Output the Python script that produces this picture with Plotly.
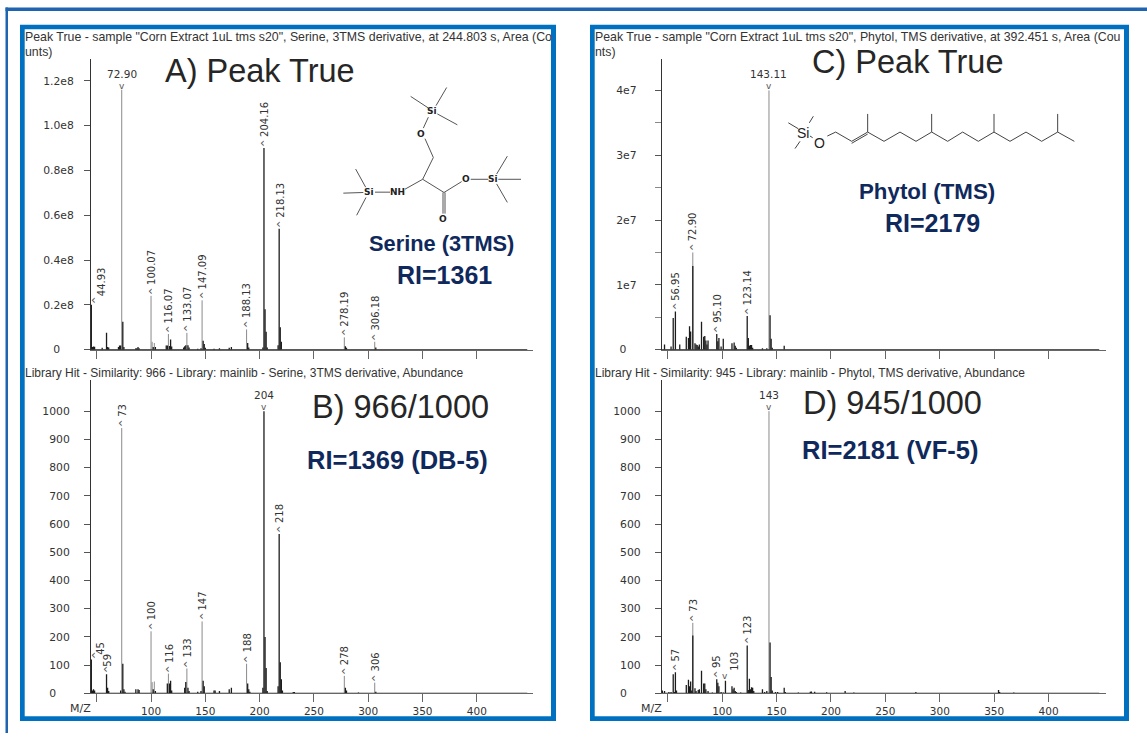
import plotly.graph_objects as go

# ---------- data ----------
A_grey_mz = [73, 100, 101, 103, 116, 133, 147, 188, 278, 306]
A_grey_h = [1.16e8, 0.24e8, 0.035e8, 0.03e8, 0.07e8, 0.075e8, 0.22e8, 0.09e8, 0.055e8, 0.035e8]
A_dark_mz = [45, 46, 47, 48, 55, 59, 60, 61, 70, 71, 72, 74, 75, 86, 87, 88, 89, 102, 104, 114, 115, 117, 118, 119,
             130, 131, 132, 134, 135, 143, 146, 148, 149, 150, 158, 163, 172, 174, 189, 190, 203, 204, 205, 206, 207,
             217, 218, 219, 220, 279, 280, 307]
A_dark_h = [0.2e8, 0.012e8, 0.014e8, 0.013e8, 0.008e8, 0.075e8, 0.012e8, 0.01e8, 0.012e8, 0.018e8, 0.018e8, 0.125e8,
            0.012e8, 0.006e8, 0.006e8, 0.012e8, 0.006e8, 0.012e8, 0.012e8, 0.018e8, 0.018e8, 0.016e8, 0.045e8, 0.014e8,
            0.01e8, 0.015e8, 0.02e8, 0.02e8, 0.01e8, 0.004e8, 0.006e8, 0.04e8, 0.025e8, 0.008e8, 0.004e8, 0.006e8,
            0.008e8, 0.012e8, 0.03e8, 0.01e8, 0.01e8, 0.9e8, 0.18e8, 0.08e8, 0.01e8, 0.02e8, 0.54e8, 0.1e8, 0.035e8,
            0.015e8, 0.008e8, 0.01e8]
A_labels = ["44.93", "72.90", "100.07", "116.07", "133.07", "147.09", "188.13", "204.16", "218.13", "278.19", "306.18"]
A_label_mz = [45, 73, 100, 116, 133, 147, 188, 204, 218, 278, 306]
A_label_h = [0.2e8, 1.16e8, 0.24e8, 0.07e8, 0.075e8, 0.22e8, 0.09e8, 0.9e8, 0.54e8, 0.055e8, 0.035e8]

B_grey_mz = [73, 100, 101, 103, 116, 133, 147, 188, 278, 306]
B_grey_h = [940, 220, 40, 42, 70, 88, 255, 105, 62, 38]
B_dark_mz = [45, 46, 47, 48, 59, 60, 61, 72, 74, 75, 76, 86, 88, 89, 102, 104, 115, 117, 118, 119, 131, 132, 134, 135,
             143, 146, 148, 149, 158, 159, 163, 172, 174, 189, 190, 191, 203, 204, 205, 206, 207, 217, 218, 219, 220,
             221, 231, 232, 279, 280, 291, 307]
B_dark_h = [120, 10, 15, 10, 68, 20, 8, 10, 105, 15, 6, 15, 15, 12, 15, 8, 35, 35, 45, 10, 20, 40, 20, 8,
            6, 8, 45, 25, 10, 10, 8, 15, 20, 35, 15, 6, 20, 1000, 200, 90, 8, 25, 565, 110, 50,
            10, 5, 5, 20, 10, 3, 6]
B_labels = ["45", "59", "73", "100", "116", "133", "147", "188", "204", "218", "278", "306"]
B_label_mz = [45, 59, 73, 100, 116, 133, 147, 188, 204, 218, 278, 306]
B_label_h = [120, 68, 940, 220, 70, 88, 255, 105, 1000, 565, 62, 38]

C_grey_mz = [73, 143]
C_grey_h = [1.5e7, 4.0e7]
C_dark_mz = [47, 53, 55, 57, 61, 67, 69, 70, 71, 73, 75, 76, 77, 78, 79, 81, 83, 84, 85, 86, 87, 95, 96, 97, 99, 101,
             109, 111, 112, 113, 123, 124, 125, 126, 127, 128, 137, 141, 144, 145, 146, 157]
C_dark_h = [0.08e7, 0.05e7, 0.49e7, 0.59e7, 0.08e7, 0.2e7, 0.18e7, 0.36e7, 0.28e7, 1.29e7, 0.1e7, 0.08e7, 0.07e7,
            0.05e7, 0.08e7, 0.43e7, 0.2e7, 0.21e7, 0.14e7, 0.08e7, 0.14e7, 0.24e7, 0.13e7, 0.18e7, 0.05e7, 0.17e7,
            0.1e7, 0.11e7, 0.06e7, 0.03e7, 0.52e7, 0.18e7, 0.06e7, 0.07e7, 0.07e7, 0.03e7, 0.02e7, 0.02e7, 0.53e7,
            0.17e7, 0.03e7, 0.06e7]
C_labels = ["56.95", "72.90", "95.10", "123.14", "143.11"]
C_label_mz = [57, 73, 95, 123, 143]
C_label_h = [0.59e7, 1.5e7, 0.24e7, 0.52e7, 4.0e7]

D_grey_mz = [73, 143]
D_grey_h = [250, 1000]
D_dark_mz = [45, 47, 51, 53, 55, 56, 57, 58, 67, 69, 70, 71, 72, 73, 75, 76, 78, 79, 81, 83, 84, 85, 87, 91, 95, 96,
             97, 99, 101, 103, 109, 110, 111, 112, 113, 117, 123, 124, 125, 126, 127, 128, 129, 137, 139, 141, 144,
             145, 146, 149, 151, 157, 158, 170, 181, 182, 185, 196, 213, 221, 278, 354, 355, 368]
D_dark_h = [10, 8, 5, 5, 68, 5, 75, 10, 30, 48, 25, 42, 10, 205, 18, 8, 12, 15, 80, 35, 35, 15, 8, 3, 50, 38,
            25, 5, 3, 45, 25, 15, 20, 8, 5, 3, 170, 12, 52, 15, 22, 20, 8, 15, 5, 8, 180,
            58, 10, 5, 5, 20, 5, 3, 6, 7, 6, 4, 8, 3, 5, 12, 5, 3]
D_labels = ["57", "73", "95", "103", "123", "143"]
D_label_mz = [57, 73, 95, 103, 123, 143]
D_label_h = [75, 250, 50, 45, 170, 1000]

x_ticks = [50, 100, 150, 200, 250, 300, 350, 400]
x_tick_labels = ["", "100", "150", "200", "250", "300", "350", "400"]
A_y_ticks = [0, 0.2e8, 0.4e8, 0.6e8, 0.8e8, 1.0e8, 1.2e8]
A_y_labels = ["0", "0.2e8", "0.4e8", "0.6e8", "0.8e8", "1.0e8", "1.2e8"]
C_y_ticks = [0, 1e7, 2e7, 3e7, 4e7]
C_y_minor = [0.5e7, 1.5e7, 2.5e7, 3.5e7]
C_y_labels = ["0", "1e7", "2e7", "3e7", "4e7"]
lib_y_ticks = [0, 100, 200, 300, 400, 500, 600, 700, 800, 900, 1000]
lib_y_labels = ["0", "100", "200", "300", "400", "500", "600", "700", "800", "900", "1000"]
baseline_mz = [44.7, 446.5]

# ---------- layout helpers ----------
W, H = 1147, 740
BLUE = "#0070C0"
NAVY = "#10295C"
TXT = "#333333"
TEXT_FONT = "DejaVu Sans"
HEAD_FONT = "Liberation Sans"


def px(x):
    return x / W


def py(y):
    return 1 - y / H


fig = go.Figure()
shapes = []
annotations = []


def rect(x0, y0, x1, y1, color):
    shapes.append(dict(type="rect", xref="paper", yref="paper", x0=px(x0), x1=px(x1), y0=py(y1), y1=py(y0),
                       fillcolor=color, line=dict(width=0), layer="below"))


def seg(pts, color="#444444", width=1):
    for (a, b), (c, d) in zip(pts[:-1], pts[1:]):
        shapes.append(dict(type="line", xref="paper", yref="paper", x0=px(a), y0=py(b), x1=px(c), y1=py(d),
                           line=dict(color=color, width=width)))


def text(x, y, s, size, color=TXT, family=HEAD_FONT, anchor="center", bold=False):
    annotations.append(dict(x=px(x), y=py(y), xref="paper", yref="paper", text=f"<b>{s}</b>" if bold else s,
                            showarrow=False, xanchor=anchor, yanchor="middle", borderpad=0,
                            font=dict(size=size, color=color, family=family)))


def stems(mz, h, color, width, xa, ya):
    xs, ys = [], []
    for m, v in zip(mz, h):
        xs += [m, m, None]
        ys += [0, v, None]
    fig.add_trace(go.Scatter(x=xs, y=ys, mode="lines", line=dict(color=color, width=width), hoverinfo="skip",
                             showlegend=False, xaxis=xa, yaxis=ya))


def pad0(labels, n):
    return [l + "\u00a0" * n if l == "0" else l for l in labels]


def panel(idx, grey, dark, labels, box, xr, yr, ticks, ticktext, standoff, flat=(), offs=None, minor=None,
          show_x=False, vchev=()):
    xa, ya = f"x{idx}", f"y{idx}"
    xk, yk = f"xaxis{idx}", f"yaxis{idx}"
    x0, x1, ytop, ybot = box
    fig.update_layout(**{
        xk: dict(domain=[px(x0), px(x1)], range=xr, anchor=ya, tickmode="array", tickvals=x_ticks,
                 ticktext=x_tick_labels if show_x else [""] * len(x_ticks), ticks="outside", ticklen=8, tickwidth=1,
                 tickcolor="#666666", showline=True, linecolor="#666666", linewidth=1, showgrid=False, zeroline=False,
                 tickfont=dict(size=10.5, family=TEXT_FONT, color=TXT), fixedrange=True),
        yk: dict(domain=[py(ybot), py(ytop)], range=yr, anchor=xa, tickmode="array", tickvals=ticks, ticktext=ticktext,
                 ticks="outside", ticklen=6, tickwidth=1, tickcolor="#555555", showline=True, linecolor="#333333",
                 linewidth=1, showgrid=False, zeroline=False, ticklabelstandoff=standoff,
                 tickfont=dict(size=10.8, family=TEXT_FONT, color=TXT), fixedrange=True),
    })
    if minor:
        fig.update_layout(**{yk: dict(minor=dict(tickmode="array", tickvals=minor, ticks="outside", ticklen=6,
                                                 tickcolor="#888888", showgrid=False))})
    stems(grey[0], grey[1], "#8a8a8a", 1, xa, ya)
    stems(dark[0], dark[1], "#1c1c1c", 1.3, xa, ya)
    fig.add_trace(go.Scatter(x=baseline_mz, y=[0, 0], mode="lines", line=dict(color="#222222", width=1.5),
                             hoverinfo="skip", showlegend=False, xaxis=xa, yaxis=ya))
    offs = offs or {}
    for s, m, v in zip(*labels):
        dx, dy, cdx = offs.get(s, (0.5, 11, 0))
        common = dict(x=m, y=v, xref=xa, yref=ya, showarrow=False, borderpad=0, borderwidth=0)
        if s in flat:
            annotations.append(dict(text="v", xanchor="center", yanchor="middle", yshift=4,
                                    font=dict(size=9, family=TEXT_FONT, color="#555555"), **common))
            annotations.append(dict(text=s, xanchor="center", yanchor="bottom", yshift=10,
                                    font=dict(size=10.5, family=TEXT_FONT, color=TXT), **common))
        else:
            annotations.append(dict(text="v" if s in vchev else "\u2039", xanchor="center", yanchor="middle",
                                    xshift=cdx - (0 if s in vchev else 1), yshift=5,
                                    font=dict(size=9 if s in vchev else 12, family=TEXT_FONT, color="#555555"),
                                    **common))
            annotations.append(dict(text=s, textangle=-90, xanchor="center", yanchor="bottom", xshift=dx, yshift=dy,
                                    font=dict(size=10, family=TEXT_FONT, color=TXT), **common))


# ---------- frames ----------
rect(5.5, 7.5, W, 11, "#1F64AE")
rect(5.5, 7.5, 8, H, "#1F64AE")
for (l, r) in [(20, 556), (590, 1129)]:
    rect(l, 25, r, 728, BLUE)
    rect(l + 4.7, 29.5, r - 5, 723, "white")

# ---------- panels ----------
LX = (91.0, 532.7)
RX = (661.8, 1105.5)
panel(1, (A_grey_mz, A_grey_h), (A_dark_mz, A_dark_h), (A_labels, A_label_mz, A_label_h),
      (LX[0], LX[1], 60, 353), [44.7, 451.5], [0, 1.295e8], A_y_ticks, pad0(A_y_labels, 4), 8, flat=("72.90",),
      offs={"44.93": (10.5, 9, 3)})
panel(2, (B_grey_mz, B_grey_h), (B_dark_mz, B_dark_h), (B_labels, B_label_mz, B_label_h),
      (LX[0], LX[1], 384, 700), [44.7, 451.5], [0, 1109], lib_y_ticks, pad0(lib_y_labels, 4), 12, flat=("204",),
      offs={"45": (8.5, 5, 3), "59": (1.5, 7, 0)}, show_x=True)
panel(3, (C_grey_mz, C_grey_h), (C_dark_mz, C_dark_h), (C_labels, C_label_mz, C_label_h),
      (RX[0], RX[1], 60, 353), [44.5, 452.3], [0, 4.478e7], C_y_ticks, pad0(C_y_labels, 3), 16, flat=("143.11",),
      minor=C_y_minor)
panel(4, (D_grey_mz, D_grey_h), (D_dark_mz, D_dark_h), (D_labels, D_label_mz, D_label_h),
      (RX[0], RX[1], 384, 700), [44.5, 452.3], [0, 1109], lib_y_ticks, pad0(lib_y_labels, 4), 12, flat=("143",),
      offs={"103": (9, 10, 0)}, show_x=True, vchev=("103",))

text(80.7, 715, "M/Z", 11, family=TEXT_FONT)
text(651, 715, "M/Z", 11, family=TEXT_FONT)

# ---------- headers ----------
HS = 12.35
LS = 12.0
text(24, 37, 'Peak True - sample "Corn Extract 1uL tms s20", Serine, 3TMS derivative, at 244.803 s, Area (Co', HS, anchor="left")
text(24, 52, "unts)", HS, anchor="left")
text(24, 377, "Library Hit - Similarity: 966 - Library: mainlib - Serine, 3TMS derivative, Abundance", LS, anchor="left")
text(593.5, 37, 'Peak True - sample "Corn Extract 1uL tms s20", Phytol, TMS derivative, at 392.451 s, Area (Cou', HS, anchor="left")
text(593.5, 52, "nts)", HS, anchor="left")
text(593.5, 377, "Library Hit - Similarity: 945 - Library: mainlib - Phytol, TMS derivative, Abundance", LS, anchor="left")

# ---------- overlays ----------
text(260, 72, "A) Peak True", 32.5, color="#262626")
text(400, 411, "B) 966/1000", 32.5, color="#262626")
text(907, 63, "C) Peak True", 32.5, color="#262626")
text(892, 407, "D) 945/1000", 32.5, color="#262626")
text(441, 246, "Serine (3TMS)", 21.8, color=NAVY, bold=True)
text(445, 278, "RI=1361", 25, color=NAVY, bold=True)
text(397, 464, "RI=1369 (DB-5)", 25.5, color=NAVY, bold=True)
text(927, 193, "Phytol (TMS)", 22.3, color=NAVY, bold=True)
text(932, 225, "RI=2179", 25, color=NAVY, bold=True)
text(890, 454, "RI=2181 (VF-5)", 25.5, color=NAVY, bold=True)

# ---------- structures ----------
def ser(pts):
    seg([(340 + a / 3, 85 + b / 3) for a, b in pts], color="#555555", width=1)


def phy(pts):
    seg([(770 + a / 3, 100 + b / 3) for a, b in pts], color="#444444", width=1)


for chain in [[(212, 37), (265, 72)], [(320, 10), (288, 65)], [(352, 123), (292, 90)], [(265, 100), (250, 133)],
              [(255, 165), (280, 222), (248, 288), (195, 318)], [(150, 327), (105, 327)], [(10, 330), (70, 328)],
              [(47, 257), (77, 312)], [(50, 397), (78, 343)], [(248, 288), (312, 328), (365, 295)],
              [(392, 288), (445, 288)], [(475, 288), (543, 288)], [(502, 218), (470, 272)], [(502, 358), (470, 302)],
              [(309, 328), (309, 392)], [(315, 328), (315, 392)]]:
    ser(chain)
for label, a, b in [("Si", 277, 80), ("O", 242, 150), ("NH", 172, 327), ("Si", 88, 327), ("O", 378, 288),
                    ("Si", 460, 288), ("O", 310, 408)]:
    text(340 + a / 3, 85 + b / 3, label, 9, color="#222222", bold=True, family=TEXT_FONT)

for chain in [[(55, 72), (85, 90)], [(130, 52), (118, 72)], [(75, 150), (90, 128)], [(120, 112), (128, 117)],
              [(172, 112), (197, 100), (245, 128), (293, 100), (293, 45)], [(245, 134), (293, 106)],
              [(293, 100), (342, 128), (390, 100), (438, 128), (485, 100), (485, 45)],
              [(485, 100), (533, 128), (578, 100), (625, 128), (672, 100), (672, 45)],
              [(672, 100), (720, 128), (768, 100), (815, 128), (863, 100), (863, 45)], [(863, 100), (913, 128)]]:
    phy(chain)
text(770 + 100 / 3, 100 + 103 / 3, "Si", 14, color="#222222")
text(770 + 148 / 3, 100 + 133 / 3, "O", 14, color="#222222")

fig.update_layout(width=W, height=H, margin=dict(l=0, r=0, t=0, b=0, pad=0), paper_bgcolor="white",
                  plot_bgcolor="rgba(0,0,0,0)", showlegend=False, shapes=shapes, annotations=annotations)
fig.write_html("out.html", config={"displayModeBar": False},
               post_script="document.body.style.margin='0';document.body.style.overflow='hidden';")
